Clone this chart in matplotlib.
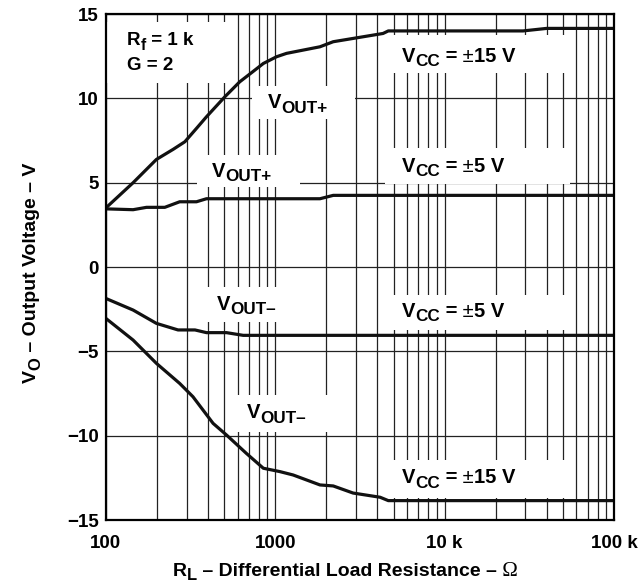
import matplotlib

matplotlib.use("Agg")
import matplotlib.pyplot as plt
from matplotlib.patches import Rectangle
from matplotlib.ticker import LogLocator, NullFormatter

plt.rcParams["font.family"] = ["Liberation Sans", "DejaVu Sans"]
plt.rcParams["font.weight"] = "bold"

# load resistance (ohm) / output voltage (V)
r_15_pos = [100, 145, 199, 250, 293, 343, 393, 505, 617, 737, 851, 1019, 1167, 1837, 2200, 4330, 4650, 29000, 40000, 100000]
v_15_pos = [3.5, 5.0, 6.38, 6.98, 7.43, 8.22, 8.91, 10.1, 10.98, 11.58, 12.07, 12.47, 12.67, 13.06, 13.36, 13.85, 14.0, 14.0, 14.15, 14.15]

r_5_pos = [100, 145, 174, 223, 273, 343, 393, 1837, 2200, 100000]
v_5_pos = [3.45, 3.4, 3.54, 3.54, 3.87, 3.87, 4.05, 4.05, 4.25, 4.25]

r_5_neg = [100, 145, 199, 267, 336, 393, 516, 647, 100000]
v_5_neg = [-1.86, -2.55, -3.34, -3.73, -3.73, -3.89, -3.89, -4.05, -4.05]

r_15_neg = [100, 145, 199, 273, 327, 430, 516, 676, 851, 1066, 1276, 1837, 2200, 2880, 4160, 4650, 100000]
v_15_neg = [-3.04, -4.33, -5.71, -6.9, -7.69, -9.27, -9.96, -11.05, -11.93, -12.13, -12.33, -12.92, -12.98, -13.4, -13.65, -13.85, -13.85]

x_ticks = [100, 1000, 10000, 100000]
x_tick_labels = ["100", "1000", "10 k", "100 k"]
y_ticks = [-15, -10, -5, 0, 5, 10, 15]
y_tick_labels = ["\u221215", "\u221210", "\u22125", "0", "5", "10", "15"]

SANS = "Liberation Sans"
SERIF = "Liberation Serif"


def chain(ax, x, y, pieces, coords="data", vertical=False):
    # pieces: (text, size, weight, family, drop in points); each piece starts where the last ended
    prev = None
    for text, size, weight, family, drop in pieces:
        if vertical:
            xy = (x, y) if prev is None else (x, 1)
            xyc = coords if prev is None else (coords, prev)
            offset = (drop, 0)
        else:
            xy = (x, y) if prev is None else (1, y)
            xyc = coords if prev is None else (prev, coords)
            offset = (0, -drop)
        prev = ax.annotate(text, xy=xy, xycoords=xyc, xytext=offset, textcoords="offset points",
                           fontsize=size, fontweight=weight, family=family, ha="left", va="baseline",
                           rotation=90 if vertical else 0, rotation_mode="anchor",
                           zorder=4, annotation_clip=False)


def sub_label(ax, x, y, base, sub, rest=(), size=14.5):
    pieces = [(base, size, "bold", SANS, 0), (sub, size * 0.85, "bold", SANS, 3.2)]
    pieces += list(rest)
    chain(ax, x, y, pieces)


def vcc_rest(value, size=14.5):
    return [(" =", size, "bold", SANS, 0), (" \u00b1", size, "normal", SANS, 0), (value + " V", size, "bold", SANS, 0)]


fig = plt.figure(figsize=(6.41, 5.86), dpi=100)
ax = fig.add_axes([0.165, 0.1126, 0.793, 0.8634])
ax.set_xscale("log")
ax.set_xlim(100, 100000)
ax.set_ylim(-15, 15)

ax.set_xticks(x_ticks, labels=x_tick_labels)
ax.xaxis.set_minor_locator(LogLocator(base=10, subs=range(2, 10)))
ax.xaxis.set_minor_formatter(NullFormatter())
ax.set_yticks(y_ticks, labels=y_tick_labels)
ax.tick_params(which="both", length=0, labelsize=13.5)
ax.tick_params(axis="x", pad=11)
ax.tick_params(axis="y", pad=5)

ax.set_axisbelow(True)
ax.grid(which="both", axis="x", color="#222222", lw=0.9)
ax.grid(which="major", axis="y", color="#222222", lw=0.9)
for sp in ax.spines.values():
    sp.set_linewidth(1.6)
    sp.set_zorder(3)

# white areas behind the labels, breaking the grid
masks = [
    (100, 555, 10.9, 14.52),
    (4446, 55040, 11.5, 13.75),
    (4446, 55040, 4.95, 7.05),
    (728, 2955, 8.77, 10.73),
    (345, 1398, 4.74, 6.64),
    (359, 1219, -3.26, -1.19),
    (555, 2400, -9.78, -7.59),
    (4446, 55040, -3.73, -1.66),
    (4446, 55040, -13.69, -11.44),
]
for x0, x1, y0, y1 in masks:
    ax.add_patch(Rectangle((x0, y0), x1 - x0, y1 - y0, facecolor="white", edgecolor="none", zorder=1))

for r, v in [(r_15_pos, v_15_pos), (r_5_pos, v_5_pos), (r_5_neg, v_5_neg), (r_15_neg, v_15_neg)]:
    ax.plot(r, v, color="#111111", lw=2.3, zorder=2, solid_joinstyle="round")

sub_label(ax, 133, 13.16, "R", "f", [(" = 1 k", 13.5, "bold", SANS, 0)], size=13.5)
ax.text(133, 11.68, "G = 2", fontsize=13.5, va="baseline", zorder=4)
sub_label(ax, 906, 9.41, "V", "OUT+")
sub_label(ax, 423, 5.35, "V", "OUT+")
sub_label(ax, 452, -2.55, "V", "OUT\u2013")
sub_label(ax, 680, -8.97, "V", "OUT\u2013")
sub_label(ax, 5590, 12.17, "V", "CC", vcc_rest("15"))
sub_label(ax, 5590, 5.65, "V", "CC", vcc_rest("5"))
sub_label(ax, 5590, -2.94, "V", "CC", vcc_rest("5"))
sub_label(ax, 5590, -12.82, "V", "CC", vcc_rest("15"))

# axis titles, built the same way so the subscripts match the datasheet
lab = 14
chain(ax, 0.27, 0.0171, [
    ("R", lab, "bold", SANS, 0), ("L", lab * 0.85, "bold", SANS, 3.0),
    (" \u2013 Differential Load Resistance \u2013", lab, "bold", SANS, 0),
    (" \u03a9", lab + 1, "normal", SERIF, 0),
], coords="figure fraction")
chain(ax, 0.0562, 0.3464, [
    ("V", lab, "bold", SANS, 0), ("O", lab * 0.85, "bold", SANS, 3.0),
    (" \u2013 Output Voltage \u2013 V", lab, "bold", SANS, 0),
], coords="figure fraction", vertical=True)

fig.savefig("out.png", dpi=100)
